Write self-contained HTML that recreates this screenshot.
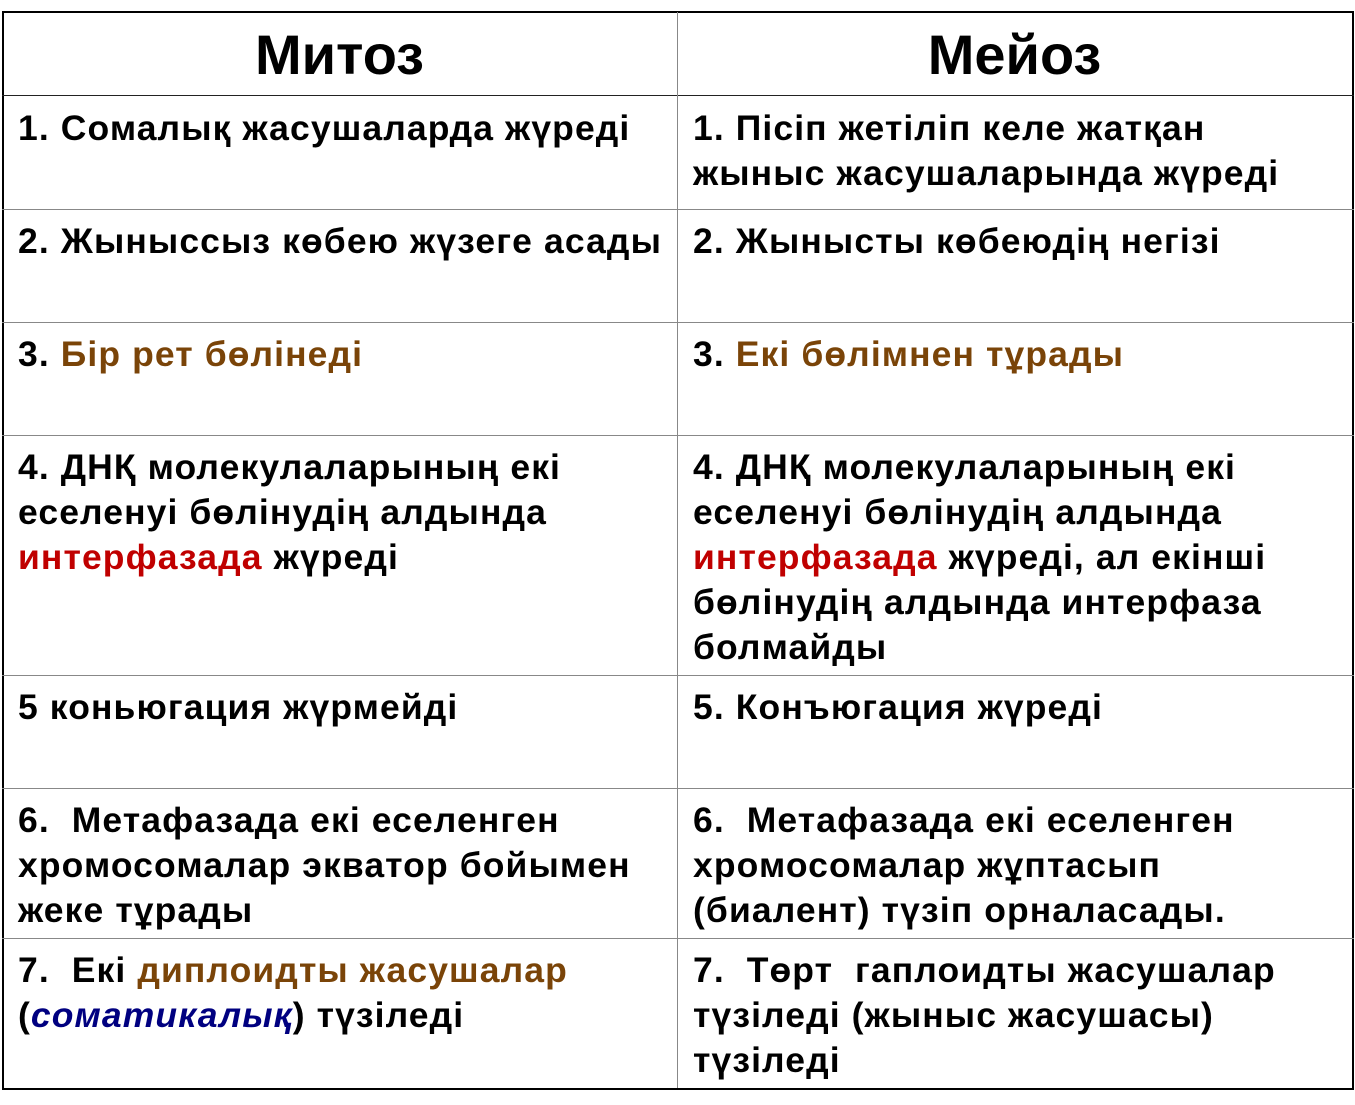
<!DOCTYPE html>
<html><head><meta charset="utf-8"><style>
body{margin:0;width:1355px;height:1105px;background:#fff;position:relative;overflow:hidden;font-family:"Liberation Sans",Arial,sans-serif;font-weight:bold;color:#000}
.box{position:absolute;left:2px;top:11px;width:1348px;height:1075px;border:2px solid #000}
.h{position:absolute;left:2px;width:1352px;height:1px;background:#888}
.v{position:absolute;left:677px;top:12px;width:1px;height:1076px;background:#888}
.t{position:absolute;font-size:35.5px;line-height:45px;white-space:nowrap;letter-spacing:1.1px}
.hd{position:absolute;top:24px;font-size:56px;line-height:62px;width:675px;text-align:center}
.b{color:#7a4408}.r{color:#c00000}.n{color:#000080;font-style:italic}
</style></head><body>
<div class="box"></div>
<div class="h" style="top:95px;background:#222"></div>
<div class="h" style="top:209px"></div>
<div class="h" style="top:322px"></div>
<div class="h" style="top:435px"></div>
<div class="h" style="top:675px"></div>
<div class="h" style="top:788px"></div>
<div class="h" style="top:938px"></div>
<div class="v"></div>
<div class="hd" style="left:2px">Митоз</div>
<div class="hd" style="left:677px">Мейоз</div>

<div class="t" style="left:18px;top:106px">1. Сомалық жасушаларда жүреді</div>
<div class="t" style="left:693px;top:106px">1. Пісіп жетіліп келе жатқан<br>жыныс жасушаларында жүреді</div>
<div class="t" style="left:18px;top:219px">2. Жыныссыз көбею жүзеге асады</div>
<div class="t" style="left:693px;top:219px">2. Жынысты көбеюдің негізі</div>
<div class="t" style="left:18px;top:332px">3. <span class="b">Бір рет бөлінеді</span></div>
<div class="t" style="left:693px;top:332px">3. <span class="b">Екі бөлімнен тұрады</span></div>
<div class="t" style="left:18px;top:445px">4. ДНҚ молекулаларының екі<br>еселенуі бөлінудің алдында<br><span class="r">интерфазада</span> жүреді</div>
<div class="t" style="left:693px;top:445px">4. ДНҚ молекулаларының екі<br>еселенуі бөлінудің алдында<br><span class="r">интерфазада</span> жүреді, ал екінші<br>бөлінудің алдында интерфаза<br>болмайды</div>
<div class="t" style="left:18px;top:685px">5 коньюгация жүрмейді</div>
<div class="t" style="left:693px;top:685px">5. Конъюгация жүреді</div>
<div class="t" style="left:18px;top:798px">6.&nbsp; Метафазада екі еселенген<br>хромосомалар экватор бойымен<br>жеке тұрады</div>
<div class="t" style="left:693px;top:798px">6.&nbsp; Метафазада екі еселенген<br>хромосомалар жұптасып<br>(биалент) түзіп орналасады.</div>
<div class="t" style="left:18px;top:948px">7.&nbsp; Екі <span class="b">диплоидты жасушалар</span><br>(<span class="n">соматикалық</span>) түзіледі</div>
<div class="t" style="left:693px;top:948px">7.&nbsp; Төрт&nbsp; гаплоидты жасушалар<br>түзіледі (жыныс жасушасы)<br>түзіледі</div>
</body></html>
